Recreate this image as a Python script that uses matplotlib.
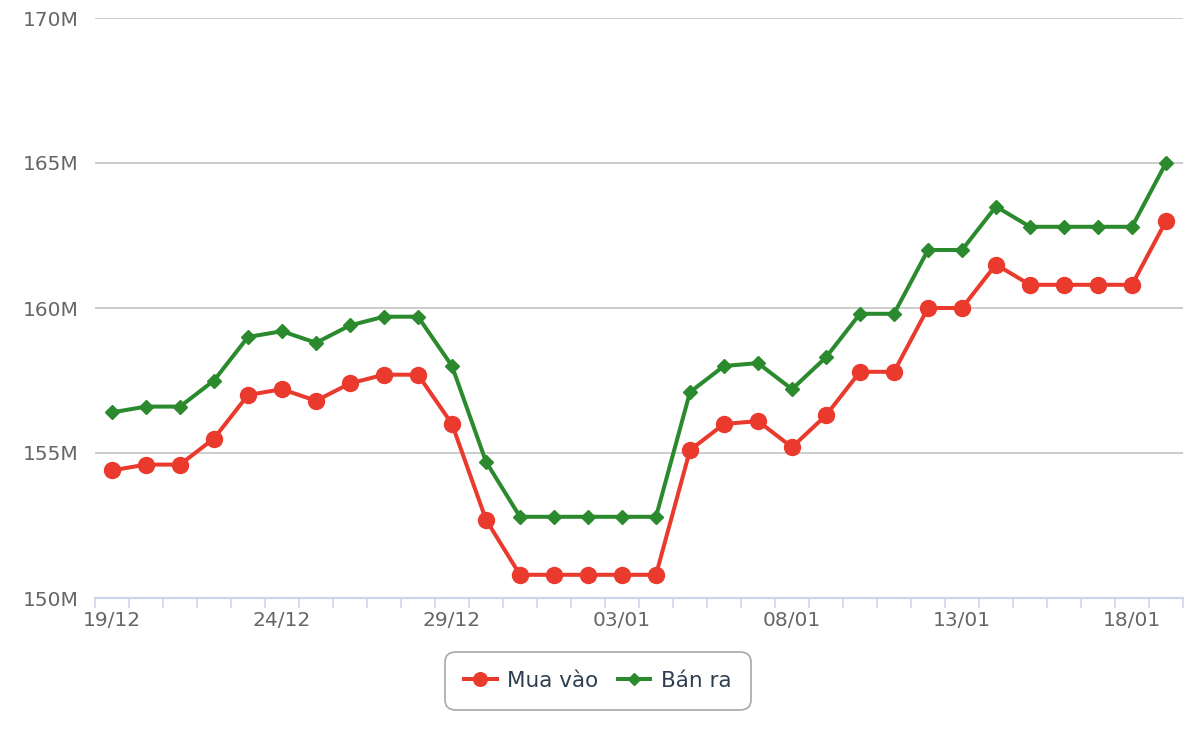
import matplotlib.pyplot as plt
from matplotlib.ticker import FixedLocator, FuncFormatter

dates = ["19/12", "20/12", "21/12", "22/12", "23/12", "24/12", "25/12", "26/12",
         "27/12", "28/12", "29/12", "30/12", "31/12", "01/01", "02/01", "03/01",
         "04/01", "05/01", "06/01", "07/01", "08/01", "09/01", "10/01", "11/01",
         "12/01", "13/01", "14/01", "15/01", "16/01", "17/01", "18/01", "19/01"]

# gia (trieu dong)
mua_vao = [154.4, 154.6, 154.6, 155.5, 157.0, 157.2, 156.8, 157.4,
           157.7, 157.7, 156.0, 152.7, 150.8, 150.8, 150.8, 150.8,
           150.8, 155.1, 156.0, 156.1, 155.2, 156.3, 157.8, 157.8,
           160.0, 160.0, 161.5, 160.8, 160.8, 160.8, 160.8, 163.0]
ban_ra = [156.4, 156.6, 156.6, 157.5, 159.0, 159.2, 158.8, 159.4,
          159.7, 159.7, 158.0, 154.7, 152.8, 152.8, 152.8, 152.8,
          152.8, 157.1, 158.0, 158.1, 157.2, 158.3, 159.8, 159.8,
          162.0, 162.0, 163.5, 162.8, 162.8, 162.8, 162.8, 165.0]

red = "#ea3a2d"
green = "#2b8a2e"
axis_col = "#ccd6eb"
text_col = "#666666"

fig = plt.figure(figsize=(12, 7.4), dpi=100)
ax = fig.add_axes([95 / 1200, 1 - 598 / 740, 1088 / 1200, 580 / 740])

x = list(range(len(dates)))
ax.plot(x, mua_vao, color=red, lw=2.9, marker="o", ms=11.5, label="Mua vào", zorder=3)
ax.plot(x, ban_ra, color=green, lw=2.9, marker="D", ms=7.5, label="Bán ra", zorder=3)

ax.set_xlim(-0.5, len(dates) - 0.5)
ax.set_ylim(150, 170)
ax.set_yticks([150, 155, 160, 165, 170])
ax.yaxis.set_major_formatter(FuncFormatter(lambda v, p: f"{int(v)}M"))
ax.grid(axis="y", color="#c4c4c4", lw=1.2)
ax.set_axisbelow(True)

ax.set_xticks(x[::5])
ax.set_xticklabels(dates[::5])
ax.xaxis.set_minor_locator(FixedLocator([i - 0.5 for i in range(len(dates) + 1)]))

for s in ["top", "right", "left"]:
    ax.spines[s].set_visible(False)
ax.spines["bottom"].set_color(axis_col)
ax.spines["bottom"].set_linewidth(1.6)

ax.tick_params(axis="y", length=0, pad=12, labelsize=14.5, labelcolor=text_col)
ax.tick_params(axis="x", which="major", length=0, pad=9, labelsize=14.5, labelcolor=text_col)
ax.tick_params(axis="x", which="minor", length=7.5, width=1.2, color=axis_col)

leg = fig.legend(loc="center", bbox_to_anchor=(598 / 1200, 1 - 681 / 740), ncol=2,
                 fontsize=15.5, frameon=True, fancybox=True, handlelength=1.5,
                 columnspacing=0.9, borderpad=0.8, handletextpad=0.5, markerscale=0.85,
                 borderaxespad=0.2)
leg.get_frame().set_edgecolor("#999999")
leg.get_frame().set_linewidth(1.3)
leg.get_frame().set_boxstyle("round", pad=0.1, rounding_size=0.5)
for t in leg.get_texts():
    t.set_color("#2c3e50")

fig.savefig("out.png", dpi=100)
